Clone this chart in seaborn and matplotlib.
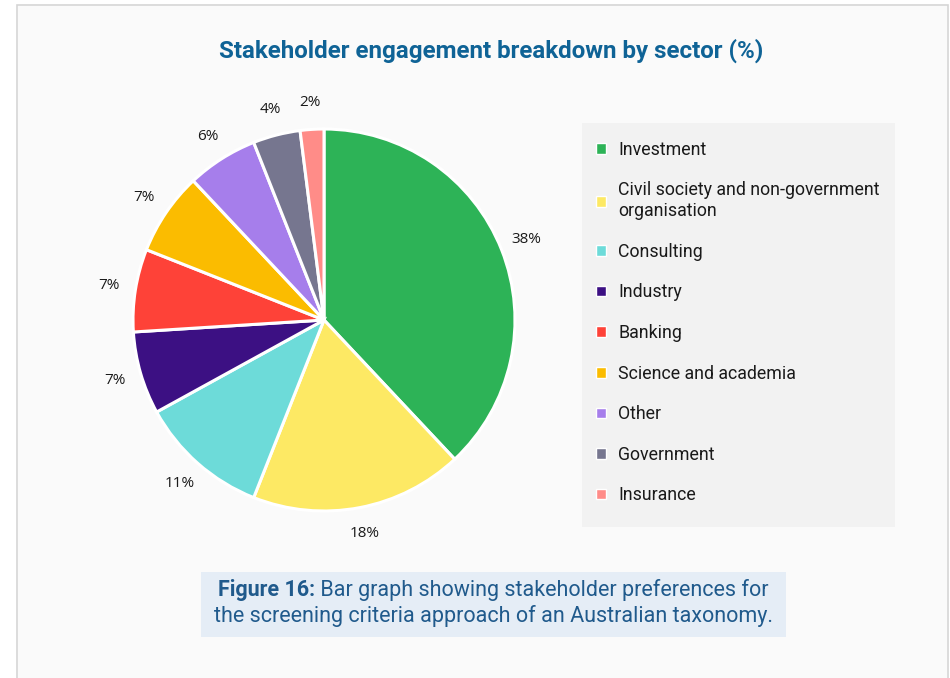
import matplotlib
matplotlib.use("Agg")
import matplotlib.pyplot as plt
from matplotlib.patches import Rectangle, Patch
import seaborn as sns

sectors = ["Investment", "Civil society and non-government\norganisation", "Consulting",
           "Industry", "Banking", "Science and academia", "Other", "Government", "Insurance"]
shares = [38, 18, 11, 7, 7, 7, 6, 4, 2]
colours = ["#2db357", "#fde964", "#6ddbd9", "#3c1083", "#fe4238",
           "#fbbc00", "#a67eeb", "#76768f", "#ff8c88"]

title = "Stakeholder engagement breakdown by sector (%)"
caption_bold = "Figure 16:"
caption_line1 = " Bar graph showing stakeholder preferences for"
caption_line2 = "the screening criteria approach of an Australian taxonomy."

sns.set_theme(style="white")
plt.rcParams["font.family"] = ["Roboto", "DejaVu Sans"]

W, H = 950, 678
fig = plt.figure(figsize=(W / 100, H / 100), dpi=100, facecolor="white")

# page panel
fig.patches.append(Rectangle((17 / W, -0.01), (948 - 17) / W, (H - 5) / H + 0.01,
                             transform=fig.transFigure, facecolor="#fafafa",
                             edgecolor="#d6d6d6", linewidth=1.2, zorder=-2))

fig.text(491 / W, 1 - 51 / H, title, ha="center", va="center", fontsize=17.4,
         fontweight="bold", color="#0f6396")

# pie axes: centre (324, 320) px, radius 191 px
cx, cy, r, lim = 324, 320, 191, 1.3
ax = fig.add_axes([(cx - r * lim) / W, (H - cy - r * lim) / H, 2 * r * lim / W, 2 * r * lim / H])
ax.pie(shares, colors=sns.color_palette(colours), startangle=90, counterclock=False,
       autopct=lambda p: f"{p:.0f}%", pctdistance=1.14,
       wedgeprops=dict(edgecolor="white", linewidth=2.2),
       textprops=dict(fontsize=11, color="#1a1a1a", family=["Open Sans", "DejaVu Sans"]))
ax.set_xlim(-lim, lim)
ax.set_ylim(-lim, lim)
ax.set_aspect("equal")
ax.axis("off")

# legend background
fig.patches.append(Rectangle((582 / W, 1 - 527 / H), (895 - 582) / W, (527 - 123) / H,
                             transform=fig.transFigure, facecolor="#f2f2f2",
                             edgecolor="none", zorder=-1))
handles = [Patch(facecolor=c, edgecolor="white", linewidth=1) for c in colours]
leg = fig.legend(handles, sectors, loc="upper left",
                 bbox_to_anchor=(587 / W, 1 - 132 / H), bbox_transform=fig.transFigure,
                 frameon=False, fontsize=12.8, labelspacing=1.27,
                 handlelength=0.55, handleheight=0.55, handletextpad=0.7,
                 borderpad=0, labelcolor="#1a1a1a")
leg.set_zorder(2)

# caption box
fig.patches.append(Rectangle((201 / W, 1 - 637 / H), (786 - 201) / W, (637 - 572) / H,
                             transform=fig.transFigure, facecolor="#e5edf6",
                             edgecolor="none", zorder=-1))
cap_kw = dict(fontsize=15.5, color="#205a8c", va="center", zorder=2)
t_bold = fig.text(0, 1 - 590 / H, caption_bold, fontweight="bold", ha="left", **cap_kw)
t_rest = fig.text(0, 1 - 590 / H, caption_line1, ha="left", **cap_kw)
fig.text(493 / W, 1 - 616 / H, caption_line2, ha="center", **cap_kw)

# centre the mixed-weight first line
fig.canvas.draw()
rend = fig.canvas.get_renderer()
wb = t_bold.get_window_extent(rend).width
wr = t_rest.get_window_extent(rend).width
x0 = 493 - (wb + wr) / 2
t_bold.set_x(x0 / W)
t_rest.set_x((x0 + wb) / W)

fig.savefig("out.png", dpi=100, facecolor="white")
